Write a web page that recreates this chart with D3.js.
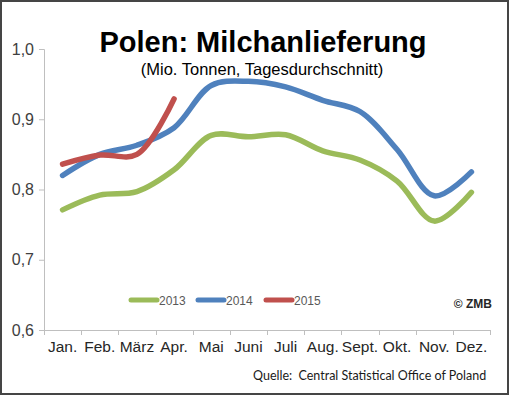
<!DOCTYPE html>
<html>
<head>
<meta charset="utf-8">
<script src="https://cdn.jsdelivr.net/npm/d3@7"></script>
<style>
  body { margin: 0; background: #fff; }
  svg { display: block; font-family: "Liberation Sans", Arial, sans-serif; }
</style>
</head>
<body>
<div id="chart-area"></div>
<script>
// data
var months = ['Jan.', 'Feb.', 'März', 'Apr.', 'Mai', 'Juni', 'Juli', 'Aug.', 'Sept.', 'Okt.', 'Nov.', 'Dez.'];
var years = ['2013', '2014', '2015'];
var values2013 = [0.771, 0.792, 0.797, 0.828, 0.877, 0.875, 0.878, 0.855, 0.842, 0.812, 0.755, 0.796];
var values2014 = [0.820, 0.850, 0.863, 0.888, 0.948, 0.954, 0.946, 0.927, 0.911, 0.857, 0.791, 0.825];
var values2015 = [0.836, 0.849, 0.850, 0.929];
var yTicks = [0.6, 0.7, 0.8, 0.9, 1.0];
var colors = ['#9bbb59', '#4f81bd', '#c0504d'];

var series = [values2013, values2014, values2015];

var W = 510, H = 396;
var margin = { top: 49, right: 20, bottom: 66, left: 44 },
	width = 490 - margin.left,
	height = 330 - margin.top;

var svg = d3.select('#chart-area')
	.append('svg')
		.attr('width', W)
		.attr('height', H);

// outer frame
svg.append('rect')
	.attr('x', 1).attr('y', 1)
	.attr('width', W - 3).attr('height', H - 3)
	.attr('fill', 'none')
	.attr('stroke', '#454545')
	.attr('stroke-width', 2);

var g = svg.append('g')
	.attr('transform', 'translate(' + margin.left + ', ' + margin.top + ')');

var xScale = d3.scaleBand()
	.domain(months)
	.range([0, width]);

var yScale = d3.scaleLinear()
	.domain([0.6, 1.0])
	.range([height, 0]);

var fmt = d3.format('.1f');

// y axis
var yAxis = d3.axisLeft(yScale)
	.tickValues(yTicks)
	.tickSize(5)
	.tickPadding(5)
	.tickFormat(d => fmt(d).replace('.', ','));

var yAxisGroup = g.append('g').attr('class', 'y-axis').call(yAxis);
yAxisGroup.select('.domain').attr('stroke', '#bfbfbf').attr('d', 'M-5,0.5H0.5V' + height);
yAxisGroup.selectAll('line').attr('stroke', '#bfbfbf');
yAxisGroup.selectAll('text')
	.attr('font-size', '16px')
	.attr('fill', '#404040')
	.attr('font-family', 'Liberation Sans, Arial, sans-serif');

// x axis, ticks between categories
var xAxisGroup = g.append('g')
	.attr('class', 'x-axis')
	.attr('transform', 'translate(0, ' + height + ')');

xAxisGroup.append('line')
	.attr('x1', 0).attr('x2', width)
	.attr('y1', 0.5).attr('y2', 0.5)
	.attr('stroke', '#bfbfbf');

xAxisGroup.selectAll('.tick-mark')
	.data(months.concat(['end']))
	.enter().append('line')
		.attr('class', 'tick-mark')
		.attr('x1', (d, i) => Math.round(i * xScale.step()) + 0.5)
		.attr('x2', (d, i) => Math.round(i * xScale.step()) + 0.5)
		.attr('y1', 0).attr('y2', 5)
		.attr('stroke', '#bfbfbf');

xAxisGroup.selectAll('.label')
	.data(months)
	.enter().append('text')
		.attr('class', 'label')
		.attr('x', d => xScale(d) + xScale.bandwidth() / 2)
		.attr('y', 22)
		.attr('text-anchor', 'middle')
		.attr('font-size', '15.5px')
		.attr('fill', '#262626')
		.text(d => d);

// lines
var line = d3.line()
	.x((d, i) => xScale(months[i]) + xScale.bandwidth() / 2)
	.y(d => yScale(d))
	.curve(d3.curveCatmullRom.alpha(0.5));

g.selectAll('.series')
	.data(series)
	.enter().append('path')
		.attr('class', 'series')
		.attr('d', d => line(d))
		.attr('fill', 'none')
		.attr('stroke', (d, i) => colors[i])
		.attr('stroke-width', 5.5)
		.attr('stroke-linecap', 'round')
		.attr('stroke-linejoin', 'round');

// title
svg.append('text')
	.attr('x', 263)
	.attr('y', 52)
	.attr('text-anchor', 'middle')
	.attr('font-size', '29px')
	.attr('font-weight', 'bold')
	.attr('fill', '#000')
	.text('Polen: Milchanlieferung');

svg.append('text')
	.attr('x', 262)
	.attr('y', 75)
	.attr('text-anchor', 'middle')
	.attr('font-size', '16.5px')
	.attr('fill', '#000')
	.text('(Mio. Tonnen, Tagesdurchschnitt)');

// legend
var legendX = [131, 198, 266];
var legend = svg.selectAll('.legend')
	.data(years)
	.enter().append('g')
		.attr('class', 'legend')
		.attr('transform', (d, i) => 'translate(' + legendX[i] + ', 300)');

legend.append('line')
	.attr('x1', 0).attr('x2', 26)
	.attr('stroke', (d, i) => colors[i])
	.attr('stroke-width', 5)
	.attr('stroke-linecap', 'round');

legend.append('text')
	.attr('x', 28)
	.attr('y', 4.5)
	.attr('font-size', '12px')
	.attr('fill', '#595959')
	.text(d => d);

svg.append('text')
	.attr('x', 492)
	.attr('y', 308)
	.attr('text-anchor', 'end')
	.attr('font-size', '12px')
	.attr('font-weight', 'bold')
	.attr('fill', '#262626')
	.text('© ZMB');

// source note
svg.append('text')
	.attr('x', 253)
	.attr('y', 380)
	.attr('font-size', '12.5px')
	.attr('font-family', 'Lato, "Open Sans", sans-serif')
	.attr('fill', '#1a1a1a')
	.attr('xml:space', 'preserve')
	.text('Quelle:  Central Statistical Office of Poland');
</script>
</body>
</html>
